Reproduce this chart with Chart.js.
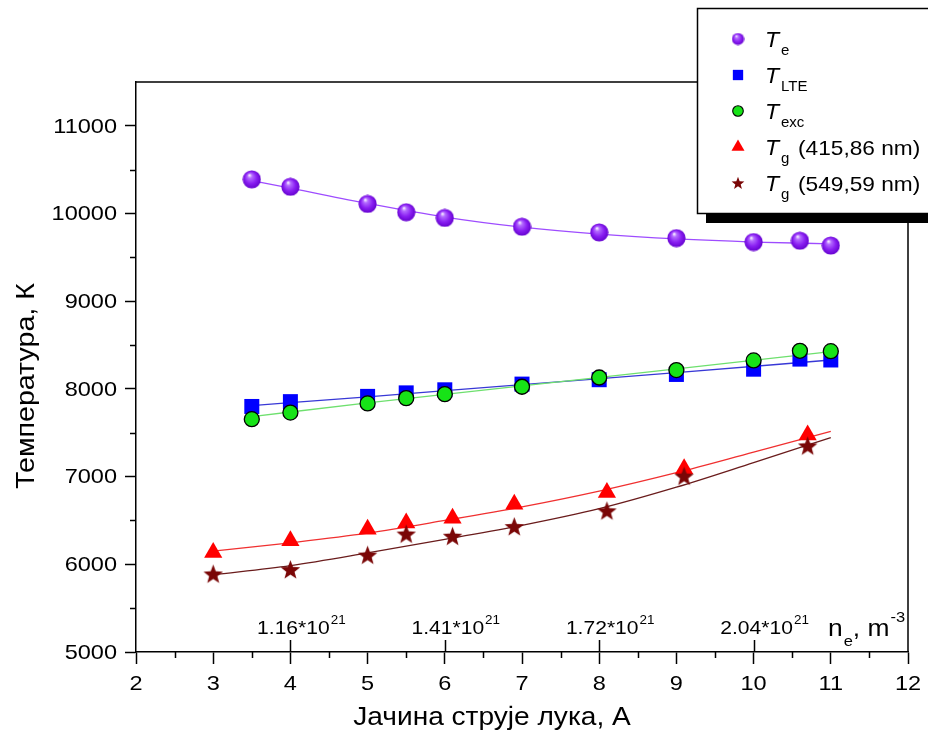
<!DOCTYPE html>
<html>
<head>
<meta charset="utf-8">
<script src="https://cdn.jsdelivr.net/npm/chart.js@4/dist/chart.umd.min.js"></script>
<style>
  html, body { margin: 0; padding: 0; background: #fff; }
  #wrap { width: 928px; height: 737px; position: relative; }
</style>
</head>
<body>
<div id="wrap"><canvas id="chart" width="928" height="737"></canvas></div>
<script>
// Arc current (A) for the electron, LTE and excitation temperatures
const currentMain = [3.5, 4, 5, 5.5, 6, 7, 8, 9, 10, 10.6, 11];
const tElectron   = [10390, 10305, 10110, 10015, 9950, 9850, 9785, 9720, 9675, 9690, 9635];
const tLTE        = [7800, 7855, 7915, 7955, 7990, 8055, 8105, 8165, 8225, 8340, 8330];
const tExc        = [7655, 7730, 7835, 7895, 7940, 8025, 8130, 8215, 8325, 8435, 8430];

// Arc current (A) for the gas temperatures
const currentGas = [3, 4, 5, 5.5, 6.1, 6.9, 8.1, 9.1, 10.7];
const tGas415    = [6135, 6270, 6400, 6470, 6525, 6685, 6820, 7090, 7475];
const tGas549    = [5890, 5940, 6105, 6345, 6320, 6430, 6610, 7005, 7350];

// Fitted trend curves
const fitXMain    = [3.5, 4, 5, 6, 7, 8, 9, 10, 11];
const fitElectron = [10375, 10290, 10115, 9960, 9845, 9765, 9710, 9675, 9655];
const fitXLin     = [3.5, 5, 7, 9, 11];
const fitLTE      = [7810, 7910, 8050, 8185, 8330];
const fitExc      = [7685, 7840, 8035, 8228, 8425];
const fitXGas     = [3, 4, 5, 6, 7, 8, 9, 10, 11];
const fitGas415   = [6150, 6245, 6355, 6500, 6655, 6835, 7045, 7280, 7515];
const fitGas549   = [5880, 5985, 6130, 6285, 6445, 6635, 6880, 7160, 7445];

// Axis ticks
const xTicks = [2, 3, 4, 5, 6, 7, 8, 9, 10, 11, 12];
const xMinorTicks = [2.5, 3.5, 4.5, 5.5, 6.5, 7.5, 8.5, 9.5, 10.5, 11.5];
const yTicks = [5000, 6000, 7000, 8000, 9000, 10000, 11000];
const yMinorTicks = [5500, 6500, 7500, 8500, 9500, 10500];

// Electron density scale shown along the current axis
const neTickPos = [4, 6, 8, 10];
const neTickLabels = ['1.16*10', '1.41*10', '1.72*10', '2.04*10'];
const neTickExp = '21';

const FONT = '"Liberation Sans", Arial, Helvetica, sans-serif';

function pts(xs, ys) { return xs.map((x, i) => ({ x: x, y: ys[i] })); }

// Text drawn slightly widened horizontally
function wideText(ctx, text, x, y, font, sx, align, baseline) {
  ctx.save();
  ctx.font = font;
  ctx.textAlign = 'left';
  ctx.textBaseline = baseline || 'alphabetic';
  const w = ctx.measureText(text).width * sx;
  const x0 = align === 'center' ? x - w / 2 : (align === 'right' ? x - w : x);
  ctx.translate(x0, y);
  ctx.scale(sx, 1);
  ctx.fillText(text, 0, 0);
  ctx.restore();
  return w;
}

// Shaded purple sphere marker
function makeSphere(d) {
  const c = document.createElement('canvas');
  c.width = c.height = d;
  const g = c.getContext('2d');
  const r = d / 2;
  const grad = g.createRadialGradient(r * 0.75, r * 0.55, r * 0.05, r, r, r);
  grad.addColorStop(0, '#f4eaff');
  grad.addColorStop(0.2, '#b46cff');
  grad.addColorStop(0.6, '#8a1ff2');
  grad.addColorStop(1, '#6200cc');
  g.fillStyle = grad;
  g.beginPath();
  g.arc(r, r, r - 0.4, 0, Math.PI * 2);
  g.fill();
  return c;
}

// Filled five-point star marker
function makeStar(d, color) {
  const c = document.createElement('canvas');
  c.width = c.height = d;
  const g = c.getContext('2d');
  const R = d / 2 - 0.3, ri = R * 0.42, cx = d / 2, cy = d / 2 + R * 0.08;
  g.fillStyle = color;
  g.beginPath();
  for (let i = 0; i < 10; i++) {
    const a = -Math.PI / 2 + i * Math.PI / 5;
    const rr = i % 2 === 0 ? R : ri;
    const px = cx + rr * Math.cos(a), py = cy + rr * Math.sin(a);
    if (i === 0) g.moveTo(px, py); else g.lineTo(px, py);
  }
  g.closePath();
  g.fill();
  return c;
}

const sphereBig = makeSphere(19), sphereSmall = makeSphere(13);
const starBig = makeStar(21, '#7a0606'), starSmall = makeStar(14, '#7a0606');

const COL = {
  te: '#8f2cf5', teLine: '#9e4cff',
  lte: '#0000ff', lteLine: '#3838d6',
  exc: '#17e317', excLine: '#6ee06e',
  g415: '#ff0000', g415Line: '#f03030',
  g549: '#7a0606', g549Line: '#6a1c1c'
};

function markerSet(label, xs, ys, style, radius, fill, border, bw) {
  return {
    label: label, data: pts(xs, ys), showLine: false,
    pointStyle: style, pointRadius: radius, pointHoverRadius: radius,
    backgroundColor: fill, borderColor: border, pointBorderWidth: bw, borderWidth: bw
  };
}
function fitSet(xs, ys, color) {
  return {
    label: '', data: pts(xs, ys), showLine: true, pointRadius: 0, pointHoverRadius: 0,
    borderColor: color, borderWidth: 1.3, backgroundColor: color,
    cubicInterpolationMode: 'monotone', fill: false
  };
}

const datasets = [
  markerSet('Tg 549,59', currentGas, tGas549, starBig, 10, COL.g549, COL.g549, 0),
  markerSet('Tg 415,86', currentGas, tGas415, 'triangle', 10.5, COL.g415, COL.g415, 0),
  markerSet('Texc', currentMain, tExc, 'circle', 7.5, COL.exc, '#000', 1.3),
  markerSet('TLTE', currentMain, tLTE, 'rect', 10.6, COL.lte, COL.lte, 0),
  markerSet('Te', currentMain, tElectron, sphereBig, 9.5, COL.te, COL.te, 0),
  fitSet(fitXGas, fitGas549, COL.g549Line),
  fitSet(fitXGas, fitGas415, COL.g415Line),
  fitSet(fitXLin, fitExc, COL.excLine),
  fitSet(fitXLin, fitLTE, COL.lteLine),
  fitSet(fitXMain, fitElectron, COL.teLine)
];

// Legend entries: [marker, subscript, trailing text]
const legendRows = [
  [{ pointStyle: sphereSmall, radius: 6.5, bg: COL.te, bc: COL.te, bw: 0 }, 'e', ''],
  [{ pointStyle: 'rect', radius: 7.3, bg: COL.lte, bc: COL.lte, bw: 0 }, 'LTE', ''],
  [{ pointStyle: 'circle', radius: 5.3, bg: COL.exc, bc: '#000', bw: 1.1 }, 'exc', ''],
  [{ pointStyle: 'triangle', radius: 7.5, bg: COL.g415, bc: COL.g415, bw: 0 }, 'g', '(415,86 nm)'],
  [{ pointStyle: starSmall, radius: 7, bg: COL.g549, bc: COL.g549, bw: 0 }, 'g', '(549,59 nm)']
];

const decorPlugin = {
  id: 'decor',
  afterDraw(chart) {
    const ctx = chart.ctx;
    const xs = chart.scales.x, ys = chart.scales.y;
    const a = chart.chartArea;
    ctx.save();
    ctx.strokeStyle = '#000';
    ctx.fillStyle = '#000';
    ctx.lineWidth = 1.5;

    // frame top and right
    ctx.beginPath();
    ctx.moveTo(a.left, a.top); ctx.lineTo(a.right, a.top); ctx.lineTo(a.right, a.bottom);
    ctx.stroke();

    // minor ticks
    ctx.beginPath();
    xMinorTicks.forEach(v => {
      const px = Math.round(xs.getPixelForValue(v)) + 0.5;
      ctx.moveTo(px, a.bottom); ctx.lineTo(px, a.bottom + 6);
    });
    yMinorTicks.forEach(v => {
      const py = Math.round(ys.getPixelForValue(v)) + 0.5;
      ctx.moveTo(a.left, py); ctx.lineTo(a.left - 6, py);
    });
    // electron density ticks pointing into the plot
    neTickPos.forEach(v => {
      const px = Math.round(xs.getPixelForValue(v)) + 0.5;
      ctx.moveTo(px, a.bottom); ctx.lineTo(px, a.bottom - 12);
    });
    ctx.stroke();

    // tick labels
    xTicks.forEach(v => {
      wideText(ctx, String(v), xs.getPixelForValue(v), 690, '21px ' + FONT, 1.12, 'center', 'alphabetic');
    });
    yTicks.forEach(v => {
      wideText(ctx, String(v), 117, ys.getPixelForValue(v) + 1, '21px ' + FONT, 1.12, 'right', 'middle');
    });

    // electron density labels
    neTickPos.forEach((v, i) => {
      const px = xs.getPixelForValue(v);
      ctx.font = '18px ' + FONT;
      const w = ctx.measureText(neTickLabels[i]).width * 1.17;
      const x0 = px - w / 2 + 3;
      wideText(ctx, neTickLabels[i], x0, a.bottom - 18, '18px ' + FONT, 1.17, 'left', 'alphabetic');
      wideText(ctx, neTickExp, x0 + w + 1, a.bottom - 28, '12px ' + FONT, 1.12, 'left', 'alphabetic');
    });
    // n_e, m^-3
    {
      let x = 828;
      const base = a.bottom - 16;
      x += wideText(ctx, 'n', x, base, '24px ' + FONT, 1.1, 'left');
      x += wideText(ctx, 'e', x + 1, base + 10, '15px ' + FONT, 1.1, 'left') + 1;
      x += wideText(ctx, ', m', x, base, '24px ' + FONT, 1.1, 'left') + 1;
      wideText(ctx, '-3', x, base - 14, '15px ' + FONT, 1.1, 'left');
    }

    // axis titles
    wideText(ctx, 'Јачина струје лука, А', 492, 718, '26px ' + FONT, 1.08, 'center', 'middle');
    ctx.save();
    ctx.translate(27, 386);
    ctx.rotate(-Math.PI / 2);
    wideText(ctx, 'Температура, К', 0, 0, '26px ' + FONT, 1.1, 'center', 'middle');
    ctx.restore();

    // legend box with drop shadow
    const lx = 697, ly = 8, lw = 260, lh = 205;
    ctx.fillStyle = '#000';
    ctx.fillRect(lx + 9, ly + lh, lw, 10);
    ctx.fillStyle = '#fff';
    ctx.fillRect(lx, ly, lw, lh);
    ctx.lineWidth = 1.5;
    ctx.strokeStyle = '#000';
    ctx.strokeRect(lx + 0.5, ly + 0.5, lw, lh);

    const rowY = [39, 75, 111, 147, 183];
    legendRows.forEach((row, i) => {
      const m = row[0];
      ctx.fillStyle = m.bg;
      ctx.strokeStyle = m.bc;
      ctx.lineWidth = m.bw;
      Chart.helpers.drawPoint(ctx, { pointStyle: m.pointStyle, radius: m.radius, rotation: 0, borderWidth: m.bw }, 738, rowY[i]);
      const base = rowY[i] + 8;
      ctx.fillStyle = '#000';
      wideText(ctx, 'T', 765, base, 'italic 22px ' + FONT, 1.05, 'left');
      wideText(ctx, row[1], 781, base + 8, '15px ' + FONT, 1.0, 'left');
      if (row[2]) {
        wideText(ctx, row[2], 798, base, '21px ' + FONT, 1.08, 'left');
      }
    });
    ctx.restore();
  }
};

new Chart(document.getElementById('chart'), {
  type: 'scatter',
  data: { datasets: datasets },
  options: {
    responsive: false,
    animation: false,
    devicePixelRatio: 1,
    layout: { padding: { left: 0, top: 82, right: 20, bottom: 0 } },
    plugins: { legend: { display: false }, tooltip: { enabled: false } },
    elements: { line: { tension: 0 } },
    scales: {
      x: {
        type: 'linear', min: 2, max: 12,
        afterBuildTicks: s => { s.ticks = xTicks.map(v => ({ value: v })); },
        afterFit: s => { s.height = 85; },
        grid: { display: true, drawOnChartArea: false, drawTicks: true, tickLength: 12, tickWidth: 1.5, tickColor: '#000' },
        border: { display: true, color: '#000', width: 1.5 },
        ticks: { display: false }
      },
      y: {
        type: 'linear', min: 5000, max: 11500,
        afterBuildTicks: s => { s.ticks = yTicks.map(v => ({ value: v })); },
        afterFit: s => { s.width = 136; },
        grid: { display: true, drawOnChartArea: false, drawTicks: true, tickLength: 11, tickWidth: 1.5, tickColor: '#000' },
        border: { display: true, color: '#000', width: 1.5 },
        ticks: { display: false }
      }
    }
  },
  plugins: [decorPlugin]
});
</script>
</body>
</html>
